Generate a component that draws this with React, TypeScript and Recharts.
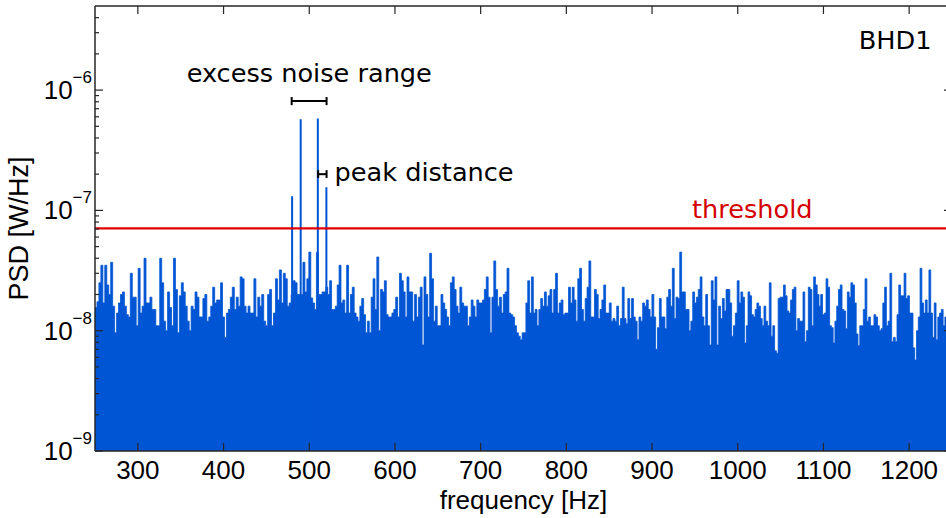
import React from 'react';
import { ComposedChart, Area, Line, XAxis, YAxis, ReferenceLine, ReferenceDot, Label } from 'recharts';

// PSD noise floor, in units of 1e-9 W/Hz
const NOISE_UNIT = 1e-9;
const noiseA = [15.6,17.4,25,35,17,35,24,20,37,16,9.6,14,17,20,21,16,13.6,13,30,19,19,11,33,14,16,40,17,17,19,15,15,11,11,40,25,12,10,21,15.6,11,40,22,9.6,19.5,25,21,16,12,10,16,15,21,19,13,13,18.5,20,12,13,16,23,17,18,18,25,13,8.8,14,15,19,23,15,19,16,28,27,16,14,16,14,14,27,13,19,16,20,12,11,20,22,11,14,27,18,32,17,30,27,16,17,20,26,25,20,20,20,37,21,27,45];
const noiseB = [18.7,17,15,44.7,20,20,21,21,23,20,26,15,15,16,24,35,17,18,14,35,14,20,23,14,13,12,16,18.5,13.6,9.6,12,9.6,19,27,15,41,10,22,21,26,13.6,13,13,14,15,19,13,30,26,21,13,28,21,21,12,20,13,19,23,7.6,28,20,13,44,27,12,16,11,11,20,17,15,13,11,25,28,22,16,14,23,17,16,16,11,13,18,16,13,18,17,17,18,22,28,19,9.6,19,38,22,16,19,14,20,21,33,14,13.6,13,11,9.6,9,8.4,9.6,9.6];
const noiseC = [17,26,14,28,14,15,11,15,18.5,16,21,16,19.5,22,14,22,30,14,17,18,13.6,14,14,23,17,23,18,12,27,33,15,12,18.5,23,38,13,13,22,20,12.6,15,18,24,14,14,17,12,12.6,12,16,11,12.6,23,12.6,11.4,18.5,12.6,18.5,13,12,8.4,13,12,17,16,18,15,13,20,13,7,10.6,18.5,13,13,10.4,19,22,16,33,12.6,19,18.5,45,21,21,15,15,10,12,21,17,19,22,28,13,11,20,11,7.6,26,18,28,7.6,16,12.6,18.5,14.6,22,22,17,9,11,14,26,17];
const noiseD = [21,19,7.9,11,21,19.5,13.6,13,15,17,16,12.6,11,16,12,11,25,9,11,6.8,6.5,18.5,19,19,24,19.5,14.6,14,18,22,23,10,12.6,12,12,21,8.1,10,23,22,11,28,24,20,16,20,13.6,14,27,23,11,10.6,7.9,12,16,22,24,15,14.6,10.4,21,19,25,24,17,9.4,7.5,11,11,15,27,12,13,11,11,13.6,13,11,10,10.4,17,23,11,12,30,8.1,8.8,8.1,13.6,24,19.5,19.5,30,18.5,19.5,14,14,7.2,5.7,10,13,33,17,14,18,14,32,14,8.8,17,8.4,13,14,15,11,13,16,12,18];
const noiseSegments = [
  { from: 250, to: 501.8, values: noiseA },
  { from: 501.8, to: 752.8, values: noiseB },
  { from: 752.8, to: 1003.7, values: noiseC },
  { from: 1003.7, to: 1250, values: noiseD },
];

// excess-noise peaks
const peakFreqs = [480, 490, 510, 520];
const peakValues = [1.31e-7, 5.73e-7, 5.8e-7, 1.56e-7];

const THRESHOLD = 7.1e-8;
const excessRange = [479.5, 520.2];
const excessLevel = [8.1e-7, 8.75e-7, 7.5e-7];
const peakDistRange = [510.4, 520.2];
const peakDistLevel = [2.0e-7, 2.16e-7, 1.86e-7];

const xTicks = [300, 400, 500, 600, 700, 800, 900, 1000, 1100, 1200];
const yTicks = [
  1e-9, 2e-9, 3e-9, 4e-9, 5e-9, 6e-9, 7e-9, 8e-9, 9e-9,
  1e-8, 2e-8, 3e-8, 4e-8, 5e-8, 6e-8, 7e-8, 8e-8, 9e-8,
  1e-7, 2e-7, 3e-7, 4e-7, 5e-7, 6e-7, 7e-7, 8e-7, 9e-7,
  1e-6, 2e-6, 3e-6, 4e-6,
];
const X_DOMAIN = [250, 1250];
const Y_DOMAIN = [1e-9, 5e-6];

const BLUE = '#0055d4';
const RED = '#e00000';
const AXIS = '#262626';
const TICK_FONT = '"Liberation Sans", Arial, sans-serif';
const ANNO_FONT = '"DejaVu Sans", Verdana, sans-serif';
const ANNO_SIZE = 25.6;

const noiseData = noiseSegments.flatMap((seg) =>
  seg.values.map((v, i) => ({
    f: seg.from + (i * (seg.to - seg.from)) / seg.values.length,
    psd: v * NOISE_UNIT,
  }))
);
const peakData = peakFreqs.flatMap((f, i) => [
  { f, psd: Y_DOMAIN[0] },
  { f, psd: peakValues[i] },
  { f, psd: Y_DOMAIN[0] },
]);

const isMajor = (v: number) => {
  const e = Math.round(Math.log10(v));
  return Math.abs(v / Math.pow(10, e) - 1) < 1e-6;
};

const LeftTick = (props: any) => {
  const { x, y, payload } = props;
  const v = payload.value;
  const major = isMajor(v);
  const e = Math.round(Math.log10(v));
  return (
    <g>
      <line x1={x} x2={x + (major ? 8 : 4)} y1={y} y2={y} stroke={AXIS} strokeWidth={1.2} />
      {major && (
        <text x={x - 3} y={y + 9} textAnchor="end" fill="#000" fontFamily={TICK_FONT}>
          <tspan fontSize={26}>10</tspan>
          <tspan fontSize={17} dy={-16}>{'\u2212' + String(-e)}</tspan>
        </text>
      )}
    </g>
  );
};

const RightTick = (props: any) => {
  const { x, y, payload } = props;
  const major = isMajor(payload.value);
  return <line x1={x} x2={x - (major ? 8 : 4)} y1={y} y2={y} stroke={AXIS} strokeWidth={1.2} />;
};

const BottomTick = (props: any) => {
  const { x, y, payload } = props;
  return (
    <g>
      <line x1={x} x2={x} y1={y} y2={y - 8} stroke={AXIS} strokeWidth={1.2} />
      <text x={x} y={y + 28} textAnchor="middle" fontSize={26} fill="#000" fontFamily={TICK_FONT}>
        {payload.value}
      </text>
    </g>
  );
};

const TopTick = (props: any) => {
  const { x, y } = props;
  return <line x1={x} x2={x} y1={y} y2={y + 8} stroke={AXIS} strokeWidth={1.2} />;
};

const XTitle = (props: any) => {
  const vb = props.viewBox;
  return (
    <text x={vb.x + vb.width / 2} y={vb.y + 58} textAnchor="middle" fontSize={26} fill="#000" fontFamily={TICK_FONT}>
      frequency [Hz]
    </text>
  );
};

const YTitle = (props: any) => {
  const vb = props.viewBox;
  const cx = 28;
  const cy = vb.y + vb.height / 2;
  return (
    <text x={cx} y={cy} textAnchor="middle" fontSize={27} fill="#000" fontFamily={TICK_FONT} transform={`rotate(-90, ${cx}, ${cy})`}>
      PSD [W/Hz]
    </text>
  );
};

const annotation = (text: string, color: string, size: number) => (props: any) => {
  const vb = props.viewBox;
  const cx = vb.x + (vb.width || 0) / 2;
  const cy = vb.y + (vb.height || 0) / 2;
  return (
    <text x={cx} y={cy} dy="0.355em" textAnchor="middle" fontSize={size} fill={color} fontFamily={ANNO_FONT}>
      {text}
    </text>
  );
};

const barStyle = { stroke: '#000', strokeWidth: 2 };

export default function App() {
  return (
    <div style={{ position: 'absolute', left: 0, top: 0, width: 946, height: 518, overflow: 'hidden', background: '#fff' }}>
      <ComposedChart width={960} height={518} margin={{ top: 0, right: 0, bottom: 0, left: 0 }}>
        <XAxis
          dataKey="f"
          type="number"
          domain={X_DOMAIN}
          ticks={xTicks}
          interval={0}
          allowDataOverflow
          height={67}
          tickSize={0}
          tickMargin={0}
          tickLine={false}
          axisLine={{ stroke: AXIS, strokeWidth: 1.5 }}
          tick={(p: any) => <BottomTick {...p} />}
        >
          <Label content={XTitle} />
        </XAxis>
        <XAxis
          xAxisId="top"
          orientation="top"
          dataKey="f"
          type="number"
          domain={X_DOMAIN}
          ticks={xTicks}
          interval={0}
          allowDataOverflow
          height={6}
          tickSize={0}
          tickMargin={0}
          tickLine={false}
          axisLine={{ stroke: AXIS, strokeWidth: 1.5 }}
          tick={(p: any) => <TopTick {...p} />}
        />
        <YAxis
          type="number"
          scale="log"
          domain={Y_DOMAIN}
          ticks={yTicks}
          interval={0}
          allowDataOverflow
          width={95}
          tickSize={0}
          tickMargin={0}
          tickLine={false}
          axisLine={{ stroke: AXIS, strokeWidth: 1.5 }}
          tick={(p: any) => <LeftTick {...p} />}
        >
          <Label content={YTitle} />
        </YAxis>
        <YAxis
          yAxisId="right"
          orientation="right"
          type="number"
          scale="log"
          domain={Y_DOMAIN}
          ticks={yTicks}
          interval={0}
          allowDataOverflow
          width={8}
          tickSize={0}
          tickMargin={0}
          tickLine={false}
          axisLine={{ stroke: AXIS, strokeWidth: 1.5 }}
          tick={(p: any) => <RightTick {...p} />}
        />
        <Area
          data={noiseData}
          dataKey="psd"
          type="stepAfter"
          stroke={BLUE}
          strokeWidth={0.8}
          fill={BLUE}
          fillOpacity={1}
          baseValue={Y_DOMAIN[0]}
          dot={false}
          activeDot={false}
          isAnimationActive={false}
        />
        <Line
          data={peakData}
          dataKey="psd"
          type="linear"
          stroke={BLUE}
          strokeWidth={2}
          dot={false}
          activeDot={false}
          isAnimationActive={false}
        />
        <ReferenceLine y={THRESHOLD} stroke={RED} strokeWidth={2.2} />
        <ReferenceLine segment={[{ x: excessRange[0], y: excessLevel[0] }, { x: excessRange[1], y: excessLevel[0] }]} {...barStyle} />
        <ReferenceLine segment={[{ x: excessRange[0], y: excessLevel[1] }, { x: excessRange[0], y: excessLevel[2] }]} {...barStyle} />
        <ReferenceLine segment={[{ x: excessRange[1], y: excessLevel[1] }, { x: excessRange[1], y: excessLevel[2] }]} {...barStyle} />
        <ReferenceLine segment={[{ x: peakDistRange[0], y: peakDistLevel[0] }, { x: peakDistRange[1], y: peakDistLevel[0] }]} {...barStyle} />
        <ReferenceLine segment={[{ x: peakDistRange[0], y: peakDistLevel[1] }, { x: peakDistRange[0], y: peakDistLevel[2] }]} {...barStyle} />
        <ReferenceLine segment={[{ x: peakDistRange[1], y: peakDistLevel[1] }, { x: peakDistRange[1], y: peakDistLevel[2] }]} {...barStyle} />
        <ReferenceDot x={500} y={1.39e-6} r={0} fill="none" stroke="none" label={annotation('excess noise range', '#000', ANNO_SIZE)} />
        <ReferenceDot x={634} y={2.07e-7} r={0} fill="none" stroke="none" label={annotation('peak distance', '#000', ANNO_SIZE)} />
        <ReferenceDot x={1017} y={1.02e-7} r={0} fill="none" stroke="none" label={annotation('threshold', '#d40000', ANNO_SIZE)} />
        <ReferenceDot x={1183.6} y={2.61e-6} r={0} fill="none" stroke="none" label={annotation('BHD1', '#000', ANNO_SIZE)} />
      </ComposedChart>
    </div>
  );
}
